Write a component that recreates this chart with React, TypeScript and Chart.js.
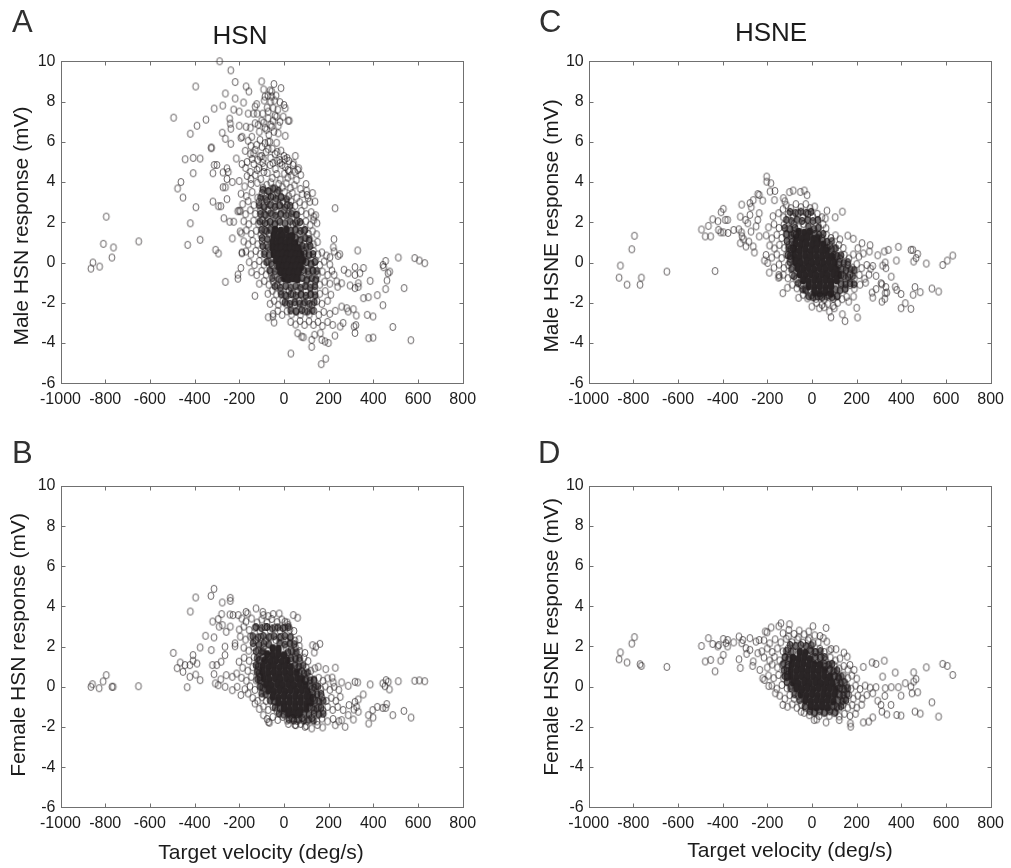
import React, { useEffect, useRef } from "react";
import { Chart, registerables } from "chart.js";

Chart.register(...registerables);

const xTicks = [-1000, -800, -600, -400, -200, 0, 200, 400, 600, 800];
const yTicks = [-6, -4, -2, 0, 2, 4, 6, 8, 10];

// flat x,y pairs
const tailA = [-864,-.3,-855,0,-825,-.2,-808,.93,-795,2.28,-770,.25,-763,.75,-650,1.05,-494,7.2,-395,8.75,-419,6.4,-389,6.8,-349,7.1,-312,7.65,-274,7.8,-288,10,-238,9.55,-218,8.97,-262,8.4,-218,8.15,-169,8.75,-157,8.5,-181,7.95,-225,7.6,-200,7.5,-243,7.15,-240,6.9,-238,6.65,-276,6.45,-262,6.15,-238,5.9,-200,6.8,-169,6.75,-193,6.2,-187,6.25,-325,5.68,-325,5.72,-442,5.13,-406,5.2,-375,5.17,-213,5.17,-173,5.55,-406,4.44,-461,4,-476,3.68,-452,3.23,-394,2.75,-419,1.95,-431,.88,-375,1.13,-318,3.03,-293,2.8,-282,2.8,-255,3.15,-273,3.74,-262,3.74,-318,4.44,-312,4.85,-300,4.85,-273,4.48,-255,4.68,-249,4.5,-255,4.15,-231,4,-269,2.2,-243,2.03,-225,2.03,-231,1.2,-306,.63,-293,.45,-262,-.96,-206,-.6,-206,-.8,-193,-.27,-188,.46,-188,.5,-130,-1.65,-196,1.54,-200,2.58,-207,2.55,229,2.7,224,1.16,221,.76,225,.55,250,.41,243,.33,206,.26,330,.6,512,.25,455,.08,443,-.12,446,-.23,585,.22,606,.1,630,-.03,538,-1.27,473,-.45,466,-.53,461,-.89,455,-1.32,386,-.91,318,-.23,356,-.27,340,-.53,318,-.61,333,-1.03,333,-1.2,318,-1.27,269,-.36,288,-.53,225,-.61,236,-.94,258,-1.03,296,-1.14,418,-1.62,378,-1.72,356,-1.77,443,-2.12,373,-2.6,399,-2.68,487,-3.2,379,-3.76,399,-3.73,568,-3.86,318,-3.5,314,-3.18,322,-3.11,311,-2.32,324,-2.63,228,-3.63,252,-3.18,265,-3,281,-2.27,288,-2.43,258,-2.19,199,-4,187,-4.78,167,-5.05,31,-4.52,124,-4.19,124,-3.84,169,-3.84,184,-3.92,87,-3.71,79,-3.68,61,-3.51,137,-3.59,163,-3.51,-44,-2.98,-70,-2.72,-50,-2.68,-100,9,-45,8.87,-13,8.67,-91,8.6,-55,8.5,-85,8.25,-55,8.25,-72,8.3,-122,7.87,-129,7.75,-136,7.4,-160,7.4,-18,7.97,0,7.83,6,7.67,-48,7.67,-70,7.5,-33,7.25,-70,7.17,-3,7.25,19,7.05,24,7.05,-18,7,-91,6.95,-129,6.92,-55,6.75,-78,6.6,-25,6.42,6,6.3,-144,6.25,-107,6.1,-63,6,-33,5.95,-85,5.93,-70,5.63,-13,5.56,-136,5.43,-107,5.27,51,5.3,4,5.13,43,4.93,66,4.68,75,4.35,99,3.9,103,3.36,139,3.03,133,2.28];
const bandA = [-62,4.85,-38,4.65,-18,4.95,6,4.75,24,4.55,40,4.85,62,4.6,-128,4.35,-104,4.15,-74,4.45,-52,4.2,-33,4.4,-16,4.12,2,4.42,17,4.22,33,4.33,56,4.1,-150,4.5,-172,4.7,-188,4.9,-176,3.78,-148,3.9,-119,3.96,-94,3.72,-77,3.86,-59,3.98,-41,3.68,-24,3.91,-7,3.74,11,3.93,29,3.71,47,3.84,74,3.66,101,3.58,-200,4.05,-192,3.42,-168,3.3,-142,3.5,-118,3.22,-98,3.45,-82,3.28,-66,3.52,-49,3.3,-31,3.47,-14,3.25,3,3.5,21,3.3,38,3.45,57,3.22,82,3.4,108,3.2,128,3.45,-185,2.9,-160,3.05,-135,2.85,-112,3.02,-92,2.82,-76,3.05,-58,2.88,-40,3.08,-22,2.84,-4,3.02,14,2.86,32,3.04,50,2.82,70,3,92,2.85,115,3.02,-195,2.55,-172,2.4,-150,2.6,-128,2.42,-106,2.58,-88,2.38,-70,2.6,-52,2.4,-34,2.58,-16,2.38,2,2.6,20,2.42,38,2.55,58,2.38,78,2.56,100,2.4,122,2.5,142,2.35,-180,2.05,-158,1.9,-136,2.08,-114,1.92,-96,2.1,-78,1.9,-60,2.05,-42,1.88,-24,2.1,40,1.9,58,2.08,78,1.9,98,2.05,118,1.88,132,2.1,148,1.95,-190,1.45,-168,1.6,-146,1.42,-124,1.58,-104,1.4,-86,1.6,-68,1.44,50,1.6,70,1.42,90,1.58,110,1.42,128,1.55,146,1.4,-180,1.05,-160,.9,-140,1.08,-118,.9,-98,1.06,-78,.88,70,1.05,92,.9,112,1.08,132,.9,150,1.02,-170,.55,-148,.4,-126,.58,-106,.42,-86,.55,-66,.4,90,.55,112,.42,132,.58,152,.4,170,.5,190,.35,-155,.02,-132,-.12,-110,.08,-90,-.1,-70,.05,-54,-.12,100,.02,122,-.1,142,.08,160,-.12,180,.05,205,-.1,-145,-.48,-122,-.62,-100,-.42,-80,-.6,-60,-.45,-42,-.6,90,-.45,110,-.6,130,-.42,150,-.6,172,-.45,195,-.62,215,-.4,-110,-1.05,-88,-.92,-68,-1.1,-48,-.95,-30,-1.1,-12,-.92,80,-1.05,100,-.9,120,-1.08,140,-.92,160,-1.1,182,-.95,205,-1.05,240,-1.2,-72,-1.55,-52,-1.4,-34,-1.58,-15,-1.42,4,-1.6,22,-1.4,40,-1.55,60,-1.42,78,-1.6,98,-1.45,118,-1.6,138,-1.42,160,-1.55,185,-1.42,210,-1.6,-62,-2.05,-44,-1.9,-25,-2.1,-6,-1.92,12,-2.08,30,-1.9,50,-2.1,68,-1.92,86,-2.08,106,-1.9,126,-2.1,148,-1.92,170,-2.05,195,-1.9,-48,-2.55,-28,-2.4,-8,-2.6,14,-2.42,34,-2.58,54,-2.4,74,-2.6,94,-2.42,114,-2.58,134,-2.4,156,-2.6,178,-2.45,205,-2.55,230,-2.4,30,-2.95,52,-3.08,72,-2.9,92,-3.1,112,-2.92,132,-3.1,152,-2.95,172,-3.15,195,-2.95,218,-3.1,-150,5.4,-128,5.6,-118,5.1,-100,5.3,-80,5.5,-60,5.2,-40,5.4,-20,5.1,0,5.3,22,5.05,-135,4.9,-95,4.95,-70,6,-110,6.5,-85,6.7,-60,6.85,-45,6.5,-95,7.4,-75,7.7,-60,8,-40,7.3,-120,7.4,-35,8.3,-25,6.8,-165,5,-142,5.15,-112,4.7,-88,4.75,-50,4.95,-30,5.05,-8,4.85,14,5.2,-122,5.85,-98,5.75,-52,5.65,-30,5.5,-115,6.85,-100,7.05,-68,6.35,-50,7.05,-88,8.05,-42,8.05,-62,8.55,-28,7.6,-150,6.7,-160,6.05,-148,5.8,-165,4.3,-148,4.15,-90,4.5,18,4.6,48,4.5,-120,4.6,-92,5.15];
const meshA = [-95,3.62,-70,3.55,-48,3.68,-25,3.58,-105,3.22,-82,3.15,-58,3.27,-35,3.18,-12,3.24,12,3.14,-110,2.84,-88,2.75,-64,2.86,-40,2.77,-18,2.85,6,2.74,28,2.82,-105,2.42,-82,2.36,-60,2.45,-38,2.34,-14,2.43,10,2.35,34,2.44,55,2.37,-108,2.04,-85,1.96,-62,2.02,-40,1.94,-18,2.03,5,1.95,28,2.04,52,1.96,72,2.02,-100,1.62,-78,1.56,-60,1.63,30,1.58,52,1.64,74,1.56,95,1.62,-98,1.22,-74,1.16,52,1.23,74,1.15,96,1.22,114,1.16,-95,.82,-72,.76,82,.83,100,.76,118,.82,-88,.42,-66,.36,92,.43,112,.36,130,.42,-78,.03,-56,-.04,100,.02,120,-.05,138,.03,-64,-.38,-40,-.44,88,-.37,108,-.44,128,-.38,146,-.43,-52,-.78,-24,-.84,82,-.77,104,-.84,124,-.78,144,-.83,-40,-1.18,-16,-1.25,8,-1.17,30,-1.24,52,-1.18,74,-1.25,96,-1.17,118,-1.24,138,-1.18,-12,-1.58,10,-1.65,32,-1.57,54,-1.64,76,-1.58,98,-1.65,120,-1.57,140,-1.63,4,-1.98,26,-2.05,48,-1.97,70,-2.04,92,-1.98,114,-2.05,136,-1.97,30,-2.38,55,-2.44,80,-2.37,105,-2.43,128,-2.38];
const coreA = [-40,1.62,-14,1.58,11,1.64,-46,1.32,-24,1.27,-5,1.33,19,1.28,36,1.31,-51,1.02,-30,.97,-10,1.03,11,.98,30,1.02,50,.96,-50,.72,-29,.68,-10,.73,10,.67,31,.72,50,.68,65,.71,-45,.42,-24,.37,-5,.43,16,.38,35,.41,55,.37,76,.42,-35,.12,-14,.07,5,.13,26,.08,45,.11,66,.07,85,.12,-25,-.18,-4,-.22,15,-.17,36,-.23,55,-.18,75,-.22,-15,-.48,6,-.52,25,-.47,46,-.53,65,-.49,1,-.78,20,-.83,41,-.78,60,-.82];

const tailB = [-864,0,-857,.13,-827,-.07,-809,.27,-795,.58,-770,0,-764,0,-651,.03,-433,-.02,-495,1.69,-478,.93,-464,1.21,-452,.75,-443,1.08,-421,.5,-419,3.75,-421,1.08,-407,1.58,-407,1.3,-395,4.45,-389,1.16,-395,.61,-375,1.96,-375,.33,-351,2.54,-327,4.53,-313,4.88,-319,3.25,-325,1.83,-320,1.08,-313,2.46,-313,.63,-301,1.08,-307,.17,-294,3.37,-294,.08,-290,3,-276,4.2,-279,3.62,-275,3.07,-281,1.25,-283,.37,-264,1.58,-263,0,-258,.58,-264,2,-258,2.74,-240,4.43,-240,4.28,-242,3.6,-240,3,-228,3.57,-231,.5,-231,-.17,-219,2.16,-219,2.02,-212,.66,-209,0,-201,1.25,-193,-.41,-204,3.57,-189,3.4,-170,3.73,-163,3.65,-125,3.9,-95,3.73,-92,3.57,-48,3.62,-21,3.65,-70,3.52,42,3.57,61,3.44,4,3.24,19,3.07,67,2.36,69,2.03,128,2.07,161,2.14,143,2,136,1.71,94,1.69,154,1,187,.88,230,.95,216,.46,258,.22,221,.22,288,.05,318,.25,330,.22,386,.12,442,.17,457,.33,467,.25,452,.03,472,-.13,512,.28,585,.3,606,.32,630,.28,355,-.38,333,-.63,418,-1,460,-.86,442,-1.05,455,-1.05,397,-1.16,378,-1.41,399,-1.53,379,-1.83,487,-1.41,537,-1.2,569,-1.53,318,-.75,313,-1.13,325,-1,333,-1.24,311,-1.63,291,-.91,288,-1.41,274,-1.99,258,-1.66,230,-1.91,173,-2.02,124,-2.07,94,-1.99,53,-1.91,-65,-1.79,-69,-1.75,-92,-1.41,-130,-.83,-160,-.33];
const bandB = [-170,3.25,-145,3.4,-120,3.2,-100,3.35,-75,3.2,-55,3.38,-30,3.22,-10,3.35,15,3.2,-200,2.85,-180,3,-155,2.82,-130,2.95,-108,2.8,-85,2.98,-62,2.82,-40,2.95,-18,2.8,4,2.95,26,2.85,45,2.78,-195,2.5,-172,2.35,-150,2.5,-126,2.32,-104,2.48,-82,2.3,-60,2.46,-36,2.32,-14,2.48,8,2.3,30,2.46,50,2.3,-180,1.95,-158,1.8,-136,1.98,-114,1.82,-92,1.96,-70,1.8,10,1.95,32,1.8,52,1.95,70,1.78,-178,1.45,-156,1.3,-134,1.48,-112,1.32,-94,1.46,30,1.3,50,1.46,70,1.3,90,1.45,108,1.28,-185,.95,-162,.8,-140,.98,-118,.82,60,.92,80,.78,100,.95,120,.8,138,.92,-190,.45,-168,.3,-146,.5,-124,.32,-108,.48,95,.3,115,.48,135,.3,155,.45,175,.3,195,.42,-175,-.12,-152,.02,-130,-.15,-108,0,125,-.1,145,.05,165,-.12,185,.02,205,-.15,225,0,245,-.15,-140,-.55,-118,-.7,-98,-.52,-80,-.7,130,-.55,150,-.7,170,-.52,190,-.7,212,-.55,232,-.7,252,-.5,-110,-1.1,-92,-.98,-70,-1.15,-50,-1,-32,-1.18,115,-1,135,-1.15,155,-1.02,175,-1.18,195,-1,218,-1.15,240,-1,265,-1.15,-75,-1.6,-50,-1.5,-28,-1.65,-6,-1.5,15,-1.68,38,-1.55,60,-1.7,82,-1.55,105,-1.72,125,-1.55,148,-1.72,170,-1.58,195,-1.72,220,-1.6,245,-1.72,20,-1.85,50,-1.9,75,-1.85,100,-1.95,150,-1.9];
const meshB = [-125,2.97,-100,2.92,-76,2.98,-52,2.91,-28,2.96,-4,2.92,20,2.97,-140,2.52,-116,2.46,-92,2.53,-68,2.47,-44,2.52,-20,2.46,4,2.53,28,2.47,-138,2.17,-112,2.1,-90,2.16,-68,2.11,-20,2.17,4,2.11,26,2.16,46,2.12,-125,1.77,-100,1.72,-96,1.78,18,1.72,38,1.77,56,1.71,-120,1.42,-108,1.36,32,1.42,52,1.37,70,1.42,-125,1.07,-115,1.02,50,1.07,68,1.02,86,1.06,-120,.72,-112,.67,70,.72,90,.67,106,.71,-118,.37,-108,.32,100,.37,118,.32,134,.36,-105,.02,-96,-.03,118,.02,136,-.03,152,.02,-100,-.33,-82,-.38,130,-.33,148,-.38,166,-.34,-62,-.68,-44,-.73,138,-.68,158,-.73,176,-.69,-40,-1.03,-18,-1.08,128,-1.03,146,-1.08,166,-1.04,-22,-1.33,-2,-1.38,90,-1.33,112,-1.38,134,-1.33,156,-1.38,176,-1.34,22,-1.63,44,-1.68,66,-1.63,88,-1.68,110,-1.63,132,-1.68];
const coreB = [-50,1.92,-25,1.88,-75,1.62,-50,1.58,-25,1.63,0,1.57,-85,1.32,-60,1.28,-35,1.33,-10,1.27,15,1.31,-95,1.02,-70,.98,-45,1.03,-20,.97,5,1.02,30,.98,-95,.72,-70,.68,-45,.73,-20,.67,5,.72,30,.68,55,.71,-90,.42,-65,.37,-40,.43,-15,.38,10,.41,35,.37,60,.42,80,.38,-80,.12,-55,.07,-30,.13,-5,.08,20,.11,45,.07,70,.12,95,.08,-70,-.18,-45,-.22,-20,-.17,5,-.23,30,-.18,55,-.22,80,-.17,105,-.23,-50,-.48,-25,-.52,0,-.47,25,-.53,50,-.49,75,-.52,100,-.48,120,-.52,-25,-.78,0,-.83,25,-.78,50,-.82,75,-.79,100,-.83,120,-.78,0,-1.08,25,-1.12,50,-1.07,75,-1.13,100,-1.08,20,-1.33,45,-1.37,70,-1.34];

const tailC = [-864,-.75,-858,-.15,-828,-1.1,-807,.66,-795,1.33,-770,-1.1,-764,-.75,-650,-.45,-434,-.42,-495,1.64,-478,1.3,-464,1.82,-454,1.3,-445,2.15,-421,2.05,-419,1.62,-409,1.5,-407,2.5,-397,2.67,-397,1.5,-388,2.12,-378,2.12,-376,1.47,-351,1.62,-328,1.65,-321,2.28,-315,2.88,-316,1.5,-313,1.3,-321,.96,-307,1.16,-296,.8,-298,2.12,-288,1.95,-278,2.95,-272,2.75,-278,2.37,-273,1.54,-283,1.04,-263,.8,-258,.5,-263,3.1,-243,3.4,-236,3.36,-221,3.08,-236,2.45,-243,2.12,-250,1.8,-236,1.3,-203,4.27,-203,4.02,-184,3.94,-188,3.53,-166,3.56,-168,3.1,-213,.1,-191,-.5,-206,.38,-199,-.02,-131,-1.52,-146,-.7,-149,-.62,-101,3.5,-84,3.58,-52,3.51,-34,3.58,-22,3.35,-128,3.2,-122,3.04,67,2.58,136,2.53,104,2.25,60,2.19,63,1.7,160,1.34,185,1.18,224,.96,260,.86,205,.71,257,.55,294,.36,324,.55,342,.63,387,.78,443,.63,451,.63,473,.43,466,.22,455,.05,378,.1,328,0,316,-.15,331,-.28,512,-.05,585,-.12,606,.1,630,.35,272,-.17,287,-.66,355,-.7,373,-1.2,379,-1.36,399,-1.56,331,-1.22,328,-1.52,309,-1.03,313,-1.08,287,-1.32,269,-1.49,272,-1.74,313,-1.94,326,-1.8,335,-1.49,461,-1.22,453,-1.6,485,-1.47,537,-1.29,567,-1.44,418,-2.02,399,-2.27,443,-2.3,200,-2.25,204,-2.73,148,-2.91,136,-2.57,186,-1.69,164,-1.94,85,-2.72,78,-2.43,100,-2.27,33,-2.27,-1,-2.19,55,-2.22];
const bandC = [-115,2.85,-95,2.7,-72,2.9,-50,2.75,-28,2.9,-8,2.7,12,2.78,-130,2.65,-175,2.3,-150,2.45,-128,2.25,-106,2.42,-84,2.28,-62,2.45,-40,2.25,-18,2.42,4,2.28,24,2.42,44,2.25,-195,1.75,-170,1.9,-148,1.72,-126,1.88,-104,1.7,-82,1.9,-60,1.75,-38,1.92,30,1.75,50,1.9,-205,1.35,-180,1.2,-158,1.38,-136,1.22,-114,1.36,-92,1.2,-72,1.38,45,1.2,65,1.38,85,1.22,105,1.35,125,1.15,-190,.85,-168,.7,-146,.88,-124,.72,-104,.86,-86,.7,80,.85,100,.7,120,.88,140,.72,-180,.25,-158,.4,-136,.22,-114,.38,-96,.2,105,.35,125,.2,145,.38,165,.2,185,.4,210,.3,230,.45,-170,-.25,-148,-.1,-126,-.28,-106,-.12,-88,-.25,120,-.1,140,-.28,160,-.12,180,-.25,200,-.08,222,-.28,245,-.12,262,-.3,-150,-.75,-128,-.6,-108,-.78,-88,-.62,-70,-.8,130,-.62,150,-.78,170,-.6,190,-.8,212,-.62,235,-.8,255,-.6,-110,-1.25,-88,-1.1,-68,-1.28,-48,-1.12,-30,-1.3,130,-1.1,150,-1.28,170,-1.12,190,-1.3,215,-1.1,240,-1,-60,-1.75,-40,-1.6,-20,-1.78,-2,-1.62,18,-1.8,36,-1.65,55,-1.85,75,-1.62,95,-1.8,115,-1.65,135,-1.82,155,-1.7,20,-2,45,-2.1,70,-2.05,95,-2.15,115,-2];
const meshC = [-98,2.52,-74,2.46,-50,2.53,-26,2.47,-4,2.52,-115,2.12,-92,2.06,-68,2.13,-44,2.07,-20,2.12,4,2.06,26,2.12,-122,1.72,-98,1.66,-76,1.73,-16,1.78,8,1.66,28,1.72,-115,1.42,-92,1.36,-82,1.43,12,1.42,32,1.37,50,1.42,-112,1.07,-90,1.02,48,1.07,68,1.02,88,1.06,-105,.72,-96,.67,70,.72,88,.67,106,.71,-108,.37,-98,.32,96,.37,114,.32,130,.36,-100,.02,122,.03,142,-.03,160,.02,-92,-.33,132,-.33,152,-.38,172,-.33,190,-.38,-80,-.68,142,-.68,162,-.73,182,-.68,-62,-1.03,130,-1.03,150,-1.08,170,-1.03,188,-1.08,-42,-1.33,-28,-1.38,105,-1.33,125,-1.38,148,-1.33,-15,-1.68,5,-1.73,25,-1.68,45,-1.73,65,-1.68,90,-1.73,112,-1.68];
const coreC = [-60,1.52,-35,1.48,-10,1.53,-70,1.22,-45,1.18,-20,1.23,5,1.17,25,1.21,-75,.92,-50,.88,-25,.93,0,.87,25,.92,50,.88,-80,.62,-55,.58,-30,.63,-5,.57,20,.62,45,.58,65,.61,-80,.32,-55,.27,-30,.33,-5,.28,20,.31,45,.27,70,.32,90,.28,-75,.02,-50,-.03,-25,.03,0,-.02,25,.01,50,-.03,75,.02,100,-.02,-65,-.28,-40,-.32,-15,-.27,10,-.33,35,-.28,60,-.32,85,-.27,110,-.33,-55,-.58,-30,-.62,-5,-.57,20,-.63,45,-.59,70,-.62,95,-.58,120,-.62,-40,-.88,-15,-.93,10,-.88,35,-.92,60,-.89,85,-.93,110,-.88,-15,-1.18,10,-1.22,35,-1.17,60,-1.23,85,-1.18,10,-1.48,35,-1.52,60,-1.47,85,-1.53];

const tailD = [-864,1.36,-858,1.7,-828,1.2,-807,2.14,-795,2.46,-770,1.11,-764,1.03,-650,.98,-434,.76,-495,2.02,-478,1.25,-464,2.41,-454,1.33,-445,2.12,-422,2,-418,2.07,-409,1.29,-397,2.37,-397,1.58,-385,2.16,-378,2.32,-378,2,-351,2.2,-327,2.49,-327,1.36,-321,.93,-315,2.16,-310,2.32,-296,1.91,-293,1.63,-278,2.41,-278,1.83,-263,1.25,-266,1.03,-251,2.24,-236,2.32,-243,1.66,-234,.83,-221,.41,-213,.33,-194,.03,-209,2.74,-201,2.7,-183,2.94,-149,3,-139,3.15,-101,3.1,-104,2.82,-57,2.79,-15,2.74,4,3,63,2.92,36,2.52,51,2.41,66,2.24,86,1.87,108,1.86,143,1.69,158,1.49,170,1.08,189,.83,230,.98,269,1.2,287,1.13,324,1.29,373,.7,316,.5,418,.17,455,.71,466,.37,455,.25,512,.96,585,1.13,606,1.03,630,.58,387,-.03,355,-.03,328,-.08,443,0,473,-.28,448,-.33,399,-.45,287,-.03,272,-.33,294,-.7,326,-.46,309,-.91,354,-.91,335,-1.38,313,-1.24,379,-1.41,399,-1.44,461,-1.24,485,-1.34,537,-.78,567,-1.49,272,-1.53,254,-1.74,230,-1.78,172,-1.83,173,-1.99,122,-1.66,63,-1.78,21,-1.63,10,-1.66,-49,-1.24,-131,-.91,-164,-.33];
const bandD = [-130,2.65,-105,2.5,-80,2.62,-60,2.45,-35,2.6,-12,2.4,12,2.55,-215,2.3,-190,2.15,-165,2.35,-140,2.2,-115,2.38,-90,2.2,-65,2.35,-40,2.18,-18,2.3,5,2.15,28,2.2,-225,1.75,-200,1.9,-178,1.72,-155,1.9,-130,1.75,-108,1.88,-85,1.75,-10,1.85,12,1.72,35,1.88,55,1.72,78,1.8,-215,1.45,-190,1.3,-168,1.48,-145,1.3,-122,1.46,-105,1.32,15,1.35,40,1.48,60,1.32,82,1.45,105,1.3,125,1.4,-200,.95,-178,1.1,-155,.95,-132,1.08,-112,.92,60,1,80,.88,100,1.05,122,.9,142,1.02,160,.85,-195,.55,-172,.42,-150,.58,-128,.42,-110,.55,100,.55,120,.4,140,.55,160,.42,178,.55,200,.4,-180,.05,-158,-.1,-135,.08,-112,-.08,-95,.05,115,.02,135,-.1,155,.05,175,-.1,195,.05,215,-.12,238,.05,260,-.05,-145,-.45,-122,-.6,-100,-.42,-80,-.6,-62,-.45,125,-.45,145,-.6,165,-.42,185,-.6,205,-.45,225,-.6,245,-.42,-110,-1,-88,-.88,-68,-1.05,-48,-.9,-28,-1.05,100,-.92,120,-1.08,140,-.9,160,-1.05,180,-.92,200,-1.05,222,-.9,-35,-1.3,-12,-1.42,10,-1.3,32,-1.45,55,-1.32,78,-1.45,100,-1.32,122,-1.48,145,-1.35,170,-1.45,195,-1.35];
const meshD = [-98,2.07,-74,2.02,-50,2.07,-26,2.02,-2,2.06,-115,1.77,-92,1.72,-4,1.77,16,1.72,38,1.77,-120,1.47,-104,1.42,14,1.47,36,1.42,56,1.47,-128,1.14,-108,1.09,56,1.14,74,1.09,90,1.13,-125,.82,-112,.77,78,.82,96,.77,112,.81,-122,.52,-112,.47,102,.52,118,.47,132,.51,-112,.22,112,.22,128,.17,146,.22,-96,-.08,126,-.08,144,-.13,160,-.08,-78,-.38,122,-.38,140,-.43,158,-.38,-56,-.68,116,-.68,136,-.73,152,-.68,-32,-.98,92,-.98,112,-1.03,130,-.98,-10,-1.23,12,-1.28,34,-1.23,56,-1.28,80,-1.23,104,-1.28];
const coreD = [-55,1.72,-30,1.68,-85,1.42,-60,1.38,-35,1.43,-10,1.37,-90,1.12,-65,1.08,-40,1.13,-15,1.07,10,1.11,35,1.08,-95,.82,-70,.78,-45,.83,-20,.77,5,.82,30,.78,55,.81,-95,.52,-70,.47,-45,.53,-20,.48,5,.51,30,.47,55,.52,80,.48,-85,.22,-60,.17,-35,.23,-10,.18,15,.21,40,.17,65,.22,90,.18,-70,-.08,-45,-.12,-20,-.07,5,-.13,30,-.08,55,-.12,80,-.07,105,-.13,-50,-.38,-25,-.42,0,-.37,25,-.43,50,-.39,75,-.42,100,-.38,-30,-.68,-5,-.73,20,-.68,45,-.72,70,-.69,95,-.73,-5,-.98,20,-1.02,45,-.97,70,-1.03];

const xLabel = "Target velocity (deg/s)";
const INK = "#2a2526";
const FONT = '"Liberation Sans", Arial, sans-serif';

const pairs = (flat: number[]) => {
  const out: { x: number; y: number }[] = [];
  for (let i = 0; i < flat.length; i += 2) out.push({ x: flat[i], y: flat[i + 1] });
  return out;
};

const sprite = (kind: "ring" | "mesh" | "blot") => {
  const c = document.createElement("canvas");
  c.width = 10;
  c.height = 12;
  const g = c.getContext("2d")!;
  g.beginPath();
  g.ellipse(5, 6, kind === "blot" ? 3.5 : 2.95, kind === "blot" ? 4.2 : 3.55, 0, 0, Math.PI * 2);
  if (kind === "blot") {
    g.fillStyle = INK;
    g.fill();
  } else if (kind === "mesh") {
    g.fillStyle = "rgba(42,37,38,0.65)";
    g.fill();
    g.strokeStyle = "rgba(42,37,38,0.95)";
    g.lineWidth = 1;
    g.stroke();
  } else {
    g.strokeStyle = "rgba(35,30,31,0.9)";
    g.lineWidth = 0.75;
    g.stroke();
  }
  return c;
};

const panels = [
  { id: "A", title: "HSN", yLabel: "Male HSN response (mV)", tail: tailA, band: bandA, mesh: meshA, core: coreA, box: [0, 0, 505, 430], plot: [60.5, 61.3, 462.7, 383.3], letterX: 12, letterY: 32, titleX: 240, titleY: 44, yLabelX: 22, yLabelY: 226, xLabelX: 0, xLabelY: 0 },
  { id: "B", title: "", yLabel: "Female HSN response (mV)", tail: tailB, band: bandB, mesh: meshB, core: coreB, box: [0, 430, 505, 438], plot: [60.5, 56, 462.7, 377.3], letterX: 12, letterY: 33, titleX: 0, titleY: 0, yLabelX: 19, yLabelY: 215, xLabelX: 261, xLabelY: 429 },
  { id: "C", title: "HSNE", yLabel: "Male HSNE response (mV)", tail: tailC, band: bandC, mesh: meshC, core: coreC, box: [505, 0, 506, 430], plot: [83.7, 61.3, 486, 383.3], letterX: 34, letterY: 32, titleX: 266, titleY: 41, yLabelX: 47, yLabelY: 226, xLabelX: 0, xLabelY: 0 },
  { id: "D", title: "", yLabel: "Female HSNE response (mV)", tail: tailD, band: bandD, mesh: meshD, core: coreD, box: [505, 430, 506, 438], plot: [83.7, 55.5, 486, 377.3], letterX: 33, letterY: 33, titleX: 0, titleY: 0, yLabelX: 47, yLabelY: 207, xLabelX: 285, xLabelY: 427 },
];

const frame = {
  id: "frame",
  beforeDatasetsDraw(chart: any) {
    const { ctx, chartArea: a, scales } = chart;
    ctx.save();
    ctx.strokeStyle = "#707070";
    ctx.lineWidth = 1;
    const L = Math.round(a.left) + 0.5;
    const R = Math.round(a.right) + 0.5;
    const T = Math.round(a.top) + 0.5;
    const B = Math.round(a.bottom) + 0.5;
    ctx.strokeRect(L, T, R - L, B - T);
    ctx.beginPath();
    for (const v of xTicks) {
      const p = Math.round(scales.x.getPixelForValue(v)) + 0.5;
      ctx.moveTo(p, T);
      ctx.lineTo(p, T + 4);
      ctx.moveTo(p, B);
      ctx.lineTo(p, B - 4);
    }
    for (const v of yTicks) {
      const p = Math.round(scales.y.getPixelForValue(v)) + 0.5;
      ctx.moveTo(L, p);
      ctx.lineTo(L + 4, p);
      ctx.moveTo(R, p);
      ctx.lineTo(R - 4, p);
    }
    ctx.stroke();
    ctx.restore();
  },
};

const labels = {
  id: "labels",
  afterDraw(chart: any, _args: any, o: any) {
    const p = o.panel;
    const { ctx } = chart;
    ctx.save();
    ctx.fillStyle = "#303030";
    ctx.textBaseline = "alphabetic";
    ctx.textAlign = "left";
    ctx.font = `31px ${FONT}`;
    ctx.fillText(p.id, p.letterX, p.letterY);
    ctx.fillStyle = "#1c1c1c";
    ctx.textAlign = "center";
    if (p.title) {
      ctx.font = `26px ${FONT}`;
      ctx.fillText(p.title, p.titleX, p.titleY);
    }
    ctx.font = `21px ${FONT}`;
    if (p.xLabelY) ctx.fillText(xLabel, p.xLabelX, p.xLabelY);
    ctx.translate(p.yLabelX, p.yLabelY);
    ctx.rotate(-Math.PI / 2);
    ctx.textBaseline = "middle";
    ctx.fillText(p.yLabel, 0, 0);
    ctx.restore();
  },
};

function Panel({ panel }: { panel: (typeof panels)[number] }) {
  const ref = useRef<HTMLCanvasElement>(null);
  useEffect(() => {
    const [, , w, h] = panel.box;
    const [l, t, r, b] = panel.plot;
    const tickFont = { family: FONT, size: 16 };
    const chart = new Chart(ref.current!, {
      type: "scatter",
      data: {
        datasets: [
          { label: "sparse points", data: pairs([...panel.tail, ...panel.band]), pointStyle: sprite("ring"), clip: false, pointRadius: 5 },
          { label: "crowded points", data: pairs(panel.mesh), pointStyle: sprite("mesh"), clip: false, pointRadius: 5 },
          { label: "densest points", data: pairs(panel.core), pointStyle: sprite("blot"), clip: false, pointRadius: 5 },
        ],
      } as any,
      options: {
        animation: false,
        responsive: false,
        events: [],
        layout: { padding: { top: t, right: w - r, left: 0, bottom: 0 } },
        plugins: { legend: { display: false }, tooltip: { enabled: false }, labels: { panel } } as any,
        scales: {
          x: {
            type: "linear",
            min: -1000,
            max: 800,
            grid: { display: false, drawTicks: false },
            border: { display: false },
            afterBuildTicks: (s: any) => { s.ticks = xTicks.map((value) => ({ value })); },
            afterFit: (s: any) => { s.height = h - b; },
            ticks: { autoSkip: false, maxRotation: 0, padding: 7, color: "#1c1c1c", font: tickFont, callback: (v: any) => String(v) },
          },
          y: {
            type: "linear",
            min: -6,
            max: 10,
            grid: { display: false, drawTicks: false },
            border: { display: false },
            afterBuildTicks: (s: any) => { s.ticks = yTicks.map((value) => ({ value })); },
            afterFit: (s: any) => { s.width = l; },
            ticks: { autoSkip: false, padding: 5, color: "#1c1c1c", font: tickFont, callback: (v: any) => String(v) },
          },
        },
      } as any,
      plugins: [frame, labels],
    });
    return () => chart.destroy();
  }, [panel]);
  const [left, top, w, h] = panel.box;
  return <canvas ref={ref} width={w} height={h} style={{ position: "absolute", left, top, width: w, height: h, filter: "blur(0.35px)" }} />;
}

export default function App() {
  return (
    <div style={{ position: "absolute", left: 0, top: 0, width: 1011, height: 868, background: "#fff", overflow: "hidden" }}>
      {panels.map((p) => (
        <Panel key={p.id} panel={p} />
      ))}
    </div>
  );
}
